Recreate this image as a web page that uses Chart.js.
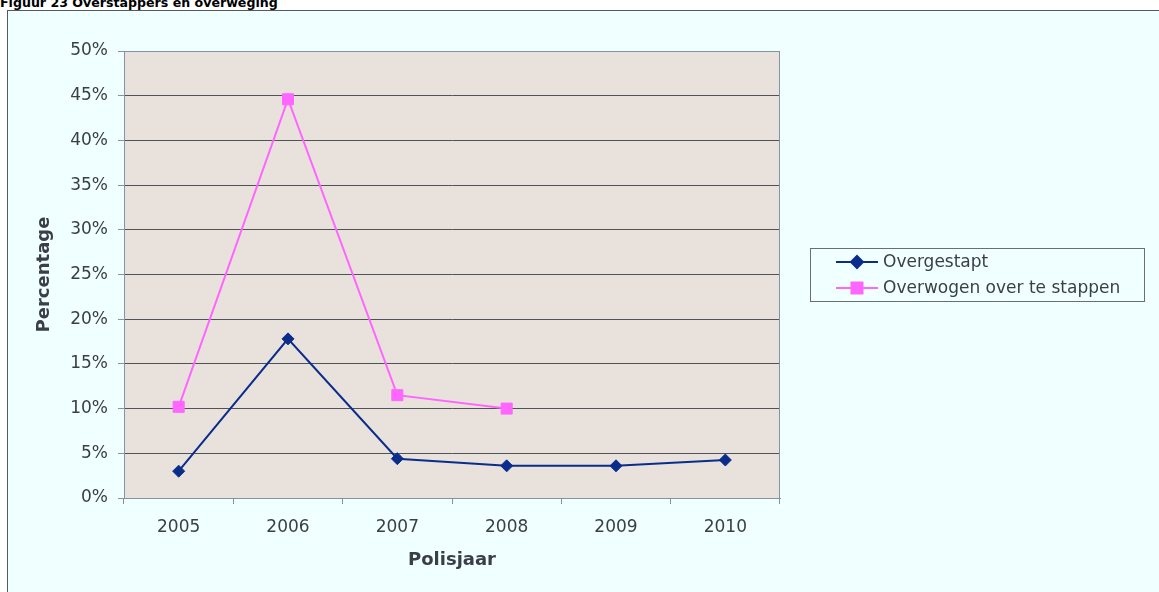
<!DOCTYPE html>
<html>
<head>
<meta charset="utf-8">
<script src="https://cdn.jsdelivr.net/npm/chart.js@4/dist/chart.umd.min.js"></script>
<style>
  html, body { margin: 0; padding: 0; width: 1159px; height: 592px; overflow: hidden; background: #ffffff; }
  #frame { position: absolute; left: 7px; top: 10px; width: 1170px; height: 600px; border: 1px solid #555a60; background: #f0ffff; box-sizing: border-box; }
  #title { position: absolute; left: 0px; top: -4.5px; font: bold 12.6px "DejaVu Sans", Verdana, sans-serif; line-height: 13px; color: #000; white-space: nowrap; }
  #c { position: absolute; left: 0; top: 0; }
</style>
</head>
<body>
<div id="frame"></div>
<div id="title">Figuur 23 Overstappers en overweging</div>
<canvas id="c" width="1159" height="592"></canvas>
<script>
const categories = ['2005', '2006', '2007', '2008', '2009', '2010'];
const seriesNames = ['Overgestapt', 'Overwogen over te stappen'];
const overgestapt = [3.0, 17.8, 4.4, 3.6, 3.6, 4.25];
const overwogen = [10.2, 44.6, 11.5, 10.0, null, null];
const yTicks = [0, 5, 10, 15, 20, 25, 30, 35, 40, 45, 50];
const xTitle = 'Polisjaar';
const yTitle = 'Percentage';

const FONT = '"DejaVu Sans", Verdana, sans-serif';
const TXT = '#3a3f47';
const AXIS = '#8592a3';
const NAVY = '#0a2d8c';
const PINK = '#ff66ff';

const plotBg = {
  id: 'plotBg',
  beforeDraw(chart) {
    const {ctx, chartArea: a} = chart;
    ctx.save();
    ctx.fillStyle = '#e9e2dc';
    ctx.fillRect(a.left, a.top, a.right - a.left, a.bottom - a.top);
    ctx.restore();
  },
  beforeDatasetsDraw(chart) {
    const {ctx, chartArea: a} = chart;
    ctx.save();
    ctx.strokeStyle = AXIS;
    ctx.lineWidth = 1;
    ctx.beginPath();
    ctx.moveTo(a.left, a.top + 0.5);
    ctx.lineTo(a.right, a.top + 0.5);
    ctx.moveTo(a.right - 0.5, a.top);
    ctx.lineTo(a.right - 0.5, a.bottom);
    ctx.stroke();
    ctx.restore();
  },
  afterDraw(chart) {
    const {ctx, chartArea: a} = chart;
    const x1 = a.right + 30, y1 = 248, x2 = 1144, y2 = 301;
    ctx.save();
    ctx.strokeStyle = '#6b6f75';
    ctx.lineWidth = 1;
    ctx.strokeRect(x1 + 0.5, y1 + 0.5, x2 - x1, y2 - y1);
    chart.data.datasets.forEach((ds, i) => {
      const cy = y1 + 14 + i * 26;
      const lx = x1 + 26, rx = x1 + 68;
      ctx.strokeStyle = ds.borderColor;
      ctx.lineWidth = ds.borderWidth;
      ctx.beginPath();
      ctx.moveTo(lx, cy);
      ctx.lineTo(rx, cy);
      ctx.stroke();
      ctx.fillStyle = ds.pointBackgroundColor;
      ctx.strokeStyle = ds.pointBorderColor;
      Chart.helpers.drawPoint(ctx, {pointStyle: ds.pointStyle, radius: ds.pointRadius, rotation: 0, borderWidth: 1}, (lx + rx) / 2, cy);
      ctx.fillStyle = TXT;
      ctx.font = '17px ' + FONT;
      ctx.textBaseline = 'middle';
      ctx.textAlign = 'left';
      ctx.fillText(ds.label, rx + 5, cy + 1);
    });
    ctx.restore();
  }
};

new Chart(document.getElementById('c'), {
  type: 'line',
  data: {
    labels: categories,
    datasets: [
      {
        label: seriesNames[0], data: overgestapt,
        borderColor: NAVY, backgroundColor: NAVY, borderWidth: 2,
        pointStyle: 'rectRot', pointRadius: 6, pointHoverRadius: 6,
        pointBackgroundColor: NAVY, pointBorderColor: NAVY, pointBorderWidth: 1,
        tension: 0, spanGaps: false
      },
      {
        label: seriesNames[1], data: overwogen,
        borderColor: PINK, backgroundColor: PINK, borderWidth: 2,
        pointStyle: 'rect', pointRadius: 7.8, pointHoverRadius: 7.8,
        pointBackgroundColor: PINK, pointBorderColor: PINK, pointBorderWidth: 1,
        tension: 0, spanGaps: false
      }
    ]
  },
  options: {
    responsive: false,
    animation: false,
    devicePixelRatio: 1,
    layout: { padding: { left: 0, top: 51, right: 379, bottom: 0 } },
    plugins: { legend: { display: false }, tooltip: { enabled: false } },
    scales: {
      x: {
        type: 'category',
        offset: true,
        grid: { display: true, drawOnChartArea: false, drawTicks: true, tickLength: 6, offset: true, tickColor: AXIS },
        border: { display: true, color: AXIS, width: 1 },
        ticks: { color: TXT, font: { family: FONT, size: 17 }, padding: 13, maxRotation: 0, autoSkip: false },
        title: { display: true, text: xTitle, color: '#3a3f47', font: { family: FONT, size: 18, weight: 'bold' }, padding: { top: 0, bottom: 21 } },
        afterFit(s) { s.height = 94; }
      },
      y: {
        min: 0, max: 50,
        afterBuildTicks(s) { s.ticks = yTicks.map(v => ({ value: v })); },
        grid: { color: '#4f5358', lineWidth: 1, drawTicks: true, tickLength: 6, tickColor: AXIS },
        border: { display: true, color: AXIS, width: 1 },
        ticks: { color: TXT, font: { family: FONT, size: 17 }, padding: 10, callback: v => v + '%' },
        title: { display: true, text: yTitle, color: '#3a3f47', font: { family: FONT, size: 18, weight: 'bold' }, padding: { top: 34, bottom: 0 } },
        afterFit(s) { s.width = 124; }
      }
    }
  },
  plugins: [plotBg]
});
</script>
</body>
</html>
